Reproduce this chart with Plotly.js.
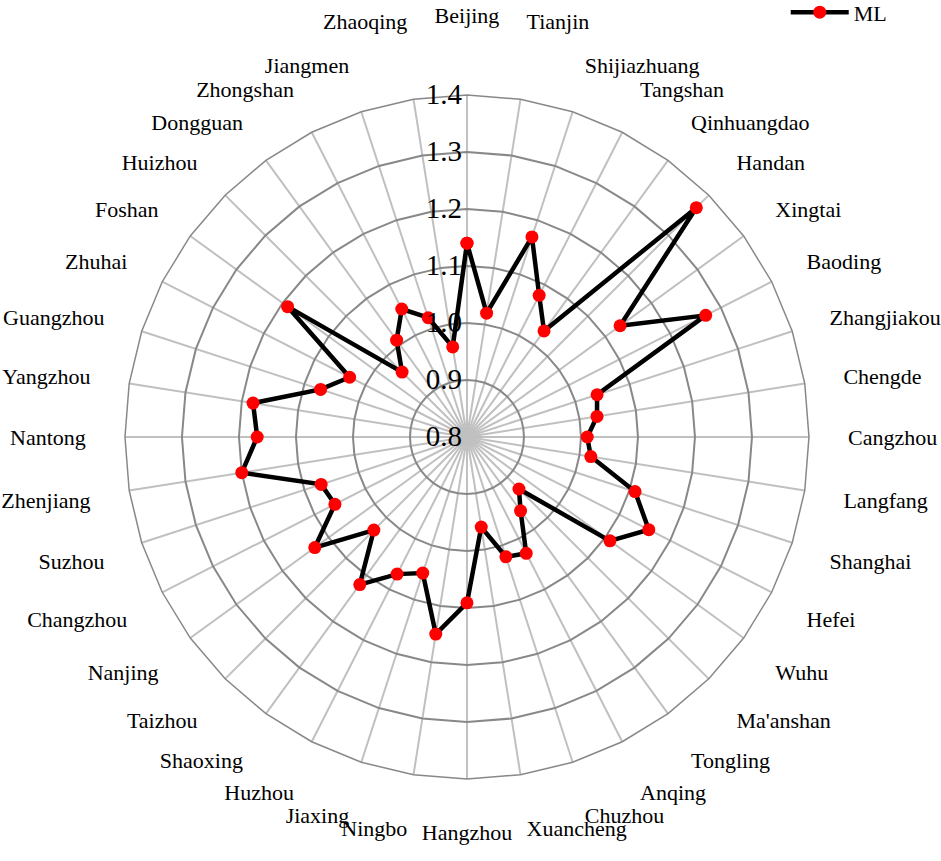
<!DOCTYPE html>
<html>
<head>
<meta charset="utf-8">
<script src="https://cdn.plot.ly/plotly-3.0.1.min.js"></script>
<style>
  html, body { margin: 0; padding: 0; background: #ffffff; }
  #graph { width: 941px; height: 861px; }
</style>
</head>
<body>
<div id="graph"></div>
<script>
let cities = ['Beijing', 'Tianjin', 'Shijiazhuang', 'Tangshan', 'Qinhuangdao', 'Handan', 'Xingtai', 'Baoding',
    'Zhangjiakou', 'Chengde', 'Cangzhou', 'Langfang', 'Shanghai', 'Hefei', 'Wuhu', "Ma'anshan", 'Tongling',
    'Anqing', 'Chuzhou', 'Xuancheng', 'Hangzhou', 'Ningbo', 'Jiaxing', 'Huzhou', 'Shaoxing', 'Taizhou',
    'Nanjing', 'Changzhou', 'Suzhou', 'Zhenjiang', 'Nantong', 'Yangzhou', 'Guangzhou', 'Zhuhai', 'Foshan',
    'Huizhou', 'Dongguan', 'Zhongshan', 'Jiangmen', 'Zhaoqing'];

let ml = [1.140, 1.020, 1.169, 1.079, 1.030, 1.369, 1.132, 1.270,
    1.040, 1.031, 1.011, 1.020, 1.110, 1.158, 1.110, 0.929, 0.960,
    1.029, 1.021, 0.960, 1.091, 1.150, 1.051, 1.070, 1.120, 1.031,
    1.130, 1.060, 1.069, 1.200, 1.168, 1.180, 1.070, 1.031, 1.189,
    0.961, 1.010, 1.052, 1.020, 0.960];

let radial_ticks = [0.8, 0.9, 1.0, 1.1, 1.2, 1.3, 1.4];

// labels right at the top sit a line higher in the original
let raised_labels = ['Beijing', 'Tianjin', 'Zhaoqing'];

function plot_radar() {
    // close the loop back to the first city
    let r = ml.concat([ml[0]]);
    let theta = cities.concat([cities[0]]);

    let trace = {
        type: 'scatterpolar',
        r: r,
        theta: theta,
        mode: 'lines+markers',
        name: 'ML',
        line: { color: '#000000', width: 4.5 },
        marker: { color: '#ff0000', size: 13 },
    };

    let font_family = 'Liberation Serif, Times New Roman, serif';

    let tick_text = cities.map(c => raised_labels.includes(c) ? c + '<br> ' : c);

    let layout = {
        width: 941,
        height: 861,
        margin: { l: 0, r: 0, t: 0, b: 0, autoexpand: false },
        paper_bgcolor: '#ffffff',
        font: { family: font_family, size: 22, color: '#000000' },
        showlegend: true,
        legend: {
            x: 0.835,
            y: 1.01,
            xanchor: 'left',
            yanchor: 'top',
            itemwidth: 58,
            bgcolor: 'rgba(0,0,0,0)',
            font: { family: font_family, size: 22, color: '#000000' },
        },
        polar: {
            domain: { x: [0.1328, 0.8597], y: [0.0952, 0.8897] },
            bgcolor: '#ffffff',
            gridshape: 'linear',
            radialaxis: {
                range: [0.8, 1.4],
                tickvals: radial_ticks,
                ticktext: radial_ticks.map(v => v.toFixed(1)),
                angle: 90,
                tickangle: 90,
                side: 'counterclockwise',
                showline: false,
                ticks: '',
                gridcolor: '#888888',
                gridwidth: 1.5,
                tickfont: { family: font_family, size: 29, color: '#000000' },
            },
            angularaxis: {
                direction: 'clockwise',
                rotation: 90,
                tickvals: cities,
                ticktext: tick_text,
                showline: true,
                linecolor: '#888888',
                linewidth: 1.5,
                gridcolor: '#c0c0c0',
                gridwidth: 1.5,
                ticks: 'outside',
                ticklen: 34,
                tickcolor: 'rgba(0,0,0,0)',
                tickfont: { family: font_family, size: 22, color: '#000000' },
            },
        },
    };

    Plotly.newPlot('graph', [trace], layout, { displayModeBar: false });
}

plot_radar();
</script>
</body>
</html>
